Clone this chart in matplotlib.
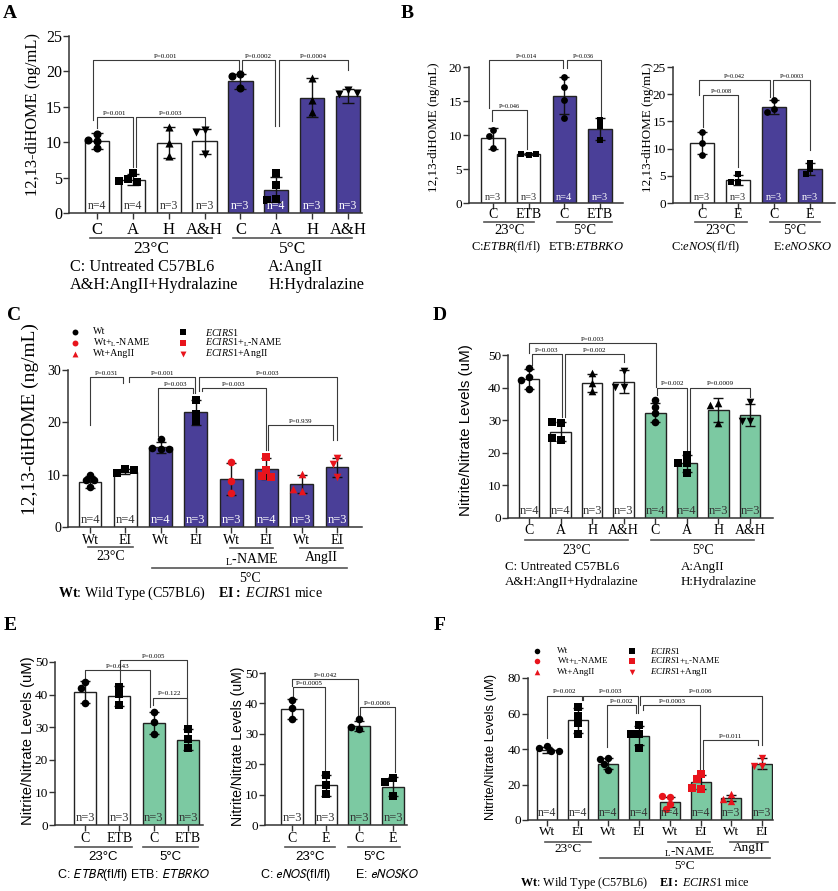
import matplotlib
matplotlib.use('Agg')
import matplotlib.pyplot as plt
import numpy as np
from matplotlib.transforms import blended_transform_factory

W, H = 838, 891
plt.rcParams['font.family'] = 'Liberation Serif'
plt.rcParams['mathtext.fontset'] = 'custom'
plt.rcParams['mathtext.rm'] = 'Liberation Serif'
plt.rcParams['mathtext.it'] = 'Liberation Serif:italic'
plt.rcParams['mathtext.bf'] = 'Liberation Serif:bold'

BLUE = '#4a3f98'
GREEN = '#7cc9a2'
RED = '#e8141c'
EDGE = '#222222'
LN = r'$_{\mathrm{L}}$-NAME'

# ---------------------------------------------------------------- data
# A : 12,13-diHOME, AngII / hydralazine
a_labels = ['C', 'A', 'H', 'A&H', 'C', 'A', 'H', 'A&H']
a_mean = [10.2, 4.7, 9.9, 10.1, 18.6, 3.3, 16.3, 16.5]
a_sd = [1.1, 0.8, 2.2, 1.8, 1.1, 1.8, 2.8, 1.0]
a_pts = [[11.2, 10.2, 10.3, 9.2], [5.6, 4.8, 4.4, 4.5], [12.1, 9.9, 8.0], [11.7, 11.4, 8.4],
         [19.7, 19.4, 17.6], [5.6, 3.9, 2.0, 1.8], [19.1, 16.0, 14.3], [17.4, 16.8, 16.9]]
a_n = [4, 4, 3, 3, 3, 4, 3, 3]
a_pvals = [(-0.11, 3.96, 21.6, 13.1, 20.2, 'P=0.001'),
           (4.03, 4.97, 21.6, 20.2, 12.3, 'P=0.0002'),
           (5.07, 6.99, 21.6, 12.3, 20.2, 'P=0.0004'),
           (0.0, 1.0, 13.6, 12.0, 6.5, 'P=0.001'),
           (1.08, 3.0, 13.6, 6.5, 12.0, 'P=0.003')]

# B left : ETBR
bl_labels = ['C', 'ETB', 'C', 'ETB']
bl_mean = [9.5, 7.2, 15.8, 10.9]
bl_sd = [1.5, 0.1, 2.7, 1.6]
bl_pts = [[10.7, 9.9, 8.1], [7.1, 7.2, 7.2], [18.5, 17.1, 15.1, 12.5], [12.2, 11.3, 9.3]]
bl_n = [3, 3, 4, 3]
bl_pvals = [(-0.11, 1.97, 21.0, 14.0, 19.8, 'P=0.014'),
            (2.07, 3.02, 21.0, 19.8, 12.7, 'P=0.036'),
            (-0.04, 0.96, 13.7, 12.0, 8.0, 'P=0.046')]

# B right : eNOS
br_labels = ['C', 'E', 'C', 'E']
br_mean = [11.0, 4.2, 17.6, 6.3]
br_sd = [2.0, 0.9, 1.3, 1.1]
br_pts = [[13.1, 11.0, 8.8], [5.3, 3.9, 3.8], [19.0, 17.2, 16.8], [7.3, 6.2, 5.3]]
br_n = [3, 3, 3, 3]
br_pvals = [(-0.07, 1.89, 22.6, 19.9, 19.5, 'P=0.042'),
            (0.04, 1.01, 19.9, 14.0, 6.7, 'P=0.008'),
            (1.98, 3.0, 22.6, 19.5, 9.7, 'P=0.0003')]

# C : 12,13-diHOME, ECIRS1
c_labels = ['Wt', 'EI', 'Wt', 'EI', 'Wt', 'EI', 'Wt', 'EI']
c_mean = [8.6, 10.6, 15.2, 21.9, 9.2, 11.1, 8.2, 11.4]
c_sd = [1.1, 0.5, 1.1, 2.4, 3.0, 2.0, 1.7, 1.8]
c_pts = [[10.0, 8.9, 8.9, 7.6], [11.1, 10.3, 10.9], [16.9, 15.0, 15.1, 14.9], [24.2, 21.6, 20.2],
         [12.4, 8.7, 6.5], [13.3, 10.9, 9.7, 9.5], [10.1, 6.9, 7.3], [13.2, 12.1, 9.5]]
c_n = [4, 4, 4, 3, 3, 4, 3, 3]
c_pvals = [(0.0, 0.94, 28.6, 19.5, 27.5, 'P=0.031'),
           (1.11, 2.98, 28.6, 27.8, 25.6, 'P=0.001'),
           (1.94, 2.91, 26.5, 17.3, 25.6, 'P=0.003'),
           (3.08, 6.99, 28.6, 25.9, 16.7, 'P=0.003'),
           (3.16, 4.98, 26.5, 25.9, 14.7, 'P=0.003'),
           (5.05, 6.89, 19.5, 14.7, 16.7, 'P=0.939')]

# D : nitrite/nitrate, AngII / hydralazine
d_labels = a_labels
d_mean = [42.7, 26.5, 41.5, 41.8, 32.3, 16.8, 33.0, 31.6]
d_sd = [3.0, 3.0, 2.7, 3.5, 3.0, 2.6, 3.7, 3.3]
d_pts = [[46.0, 43.2, 42.3, 39.7], [29.1, 29.4, 23.8, 24.5], [44.4, 41.3, 39.0], [45.0, 40.2, 40.3],
         [36.2, 34.2, 32.1, 29.3], [19.4, 17.0, 16.8, 13.8], [35.2, 34.7, 29.1], [35.5, 29.8, 29.8]]
d_n = [4, 4, 3, 3, 4, 4, 3, 3]
d_pvals = [(0.01, 4.01, 53.6, 50.5, 40.3, 'P=0.003'),
           (0.08, 1.04, 50.2, 46.9, 31.1, 'P=0.003'),
           (1.14, 3.02, 50.2, 31.1, 48.0, 'P=0.002'),
           (4.07, 5.0, 40.0, 37.8, 19.9, 'P=0.002'),
           (5.1, 7.0, 40.0, 19.9, 37.2, 'P=0.0009')]

# E left : ETBR
el_labels = ['C', 'ETB', 'C', 'ETB']
el_mean = [40.8, 39.5, 31.3, 26.2]
el_sd = [3.5, 3.0, 3.5, 3.1]
el_pts = [[43.9, 42.1, 37.4], [42.3, 40.3, 36.7], [34.7, 31.6, 27.9], [29.6, 26.3, 23.5]]
el_n = [3, 3, 3, 3]
el_pvals = [(0.0, 1.89, 47.4, 44.6, 36.2, 'P=0.643'),
            (1.02, 2.96, 50.7, 42.3, 30.6, 'P=0.005'),
            (1.97, 2.96, 39.1, 36.7, 31.1, 'P=0.122')]

# E right : eNOS
er_labels = ['C', 'E', 'C', 'E']
er_mean = [38.3, 13.1, 32.6, 12.6]
er_sd = [3.3, 3.4, 1.6, 3.2]
er_pts = [[41.2, 38.6, 35.0], [16.3, 13.3, 10.2], [34.8, 31.5, 32.1], [15.6, 14.0, 9.5]]
er_n = [3, 3, 3, 3]
er_pvals = [(0.0, 1.97, 48.1, 45.6, 35.6, 'P=0.042'),
            (0.04, 0.99, 45.4, 42.1, 17.5, 'P=0.0005'),
            (2.02, 3.06, 38.8, 35.0, 17.5, 'P=0.0006')]

# F : nitrite/nitrate, ECIRS1
f_labels = c_labels
f_mean = [39.5, 56.1, 31.8, 47.6, 10.2, 21.3, 12.2, 31.8]
f_sd = [1.9, 6.9, 2.9, 5.6, 3.0, 3.9, 1.7, 3.0]
f_pts = [[41.8, 40.5, 38.6, 38.6], [63.5, 58.8, 54.6, 48.6], [34.8, 34.5, 31.6, 28.2], [53.7, 48.6, 48.6, 40.5],
         [12.8, 13.6, 8.9, 6.2], [26.0, 23.0, 17.5, 18.3], [14.5, 10.9, 11.7], [35.2, 30.7, 30.7]]
f_n = [4, 4, 4, 4, 4, 4, 3, 3]
f_pvals = [(0.0, 1.13, 70.1, 46.1, 67.8, 'P=0.002'),
           (1.18, 2.95, 70.1, 67.8, 60.3, 'P=0.003'),
           (1.94, 2.9, 65.0, 41.4, 60.3, 'P=0.002'),
           (3.03, 6.99, 70.1, 65.0, 42.4, 'P=0.006'),
           (3.14, 4.99, 65.0, 62.1, 27.3, 'P=0.0003'),
           (5.09, 6.88, 45.2, 28.2, 42.4, 'P=0.011')]

# ---------------------------------------------------------------- figure
fig = plt.figure(figsize=(W / 100, H / 100), dpi=100)
ov = fig.add_axes([0, 0, 1, 1])
ov.set_xlim(0, W)
ov.set_ylim(H, 0)
ov.axis('off')
ov.patch.set_visible(False)
rend = fig.canvas.get_renderer()


def swarm(vals, xu, yu, d):
    placed, offs = [], []
    for v in vals:
        y = v * yu
        for k in [0, -1, 1, -2, 2, -3, 3]:
            x = k * 0.55 * d
            if all((x - a) ** 2 + (y - b) ** 2 >= (0.85 * d) ** 2 for a, b in placed):
                break
        placed.append((x, y))
        offs.append(x / xu)
    return np.array(offs)


def panel(box, centres, ymax, ystep, labels, means, sds, pts, barcols, marks, mcols, ns,
          pvals, bw=0.65, ms=32, tfs=10, xfs=10, xly=0, nfs=8, cap=3.5, pfs=5):
    x0, ytop, x1, ybot = box
    c0, c1 = centres
    nb = len(means)
    sp = (c1 - c0) / (nb - 1)
    ax = fig.add_axes([x0 / W, 1 - ybot / H, (x1 - x0) / W, (ybot - ytop) / H])
    ax.patch.set_visible(False)
    ax.set_xlim((x0 - c0) / sp, nb - 1 + (x1 - c1) / sp)
    ax.set_ylim(0, ymax)
    for s in ['top', 'right']:
        ax.spines[s].set_visible(False)
    for s in ['left', 'bottom']:
        ax.spines[s].set_color('#333333')
        ax.spines[s].set_linewidth(1.1)
    x = np.arange(nb)
    ax.set_yticks(np.arange(0, ymax + 0.1, ystep))
    ax.set_xticks(x)
    ax.set_xticklabels([])
    ax.tick_params(axis='both', length=4, width=1.0, color='#333333', pad=1, labelsize=tfs)
    ax.bar(x, means, bw, color=barcols, edgecolor=EDGE, linewidth=1.0, zorder=2)
    ax.errorbar(x, means, yerr=sds, fmt='none', ecolor='#111111', elinewidth=1.0,
                capsize=cap, capthick=1.0, zorder=3)
    d = np.sqrt(ms) * 100 / 72
    yu = (ybot - ytop) / ymax
    for i, p in enumerate(pts):
        offs = swarm(p, sp, yu, d)
        ax.scatter(i + offs, p, marker=marks[i], s=ms, color=mcols[i], linewidths=0, zorder=4)
    tr = blended_transform_factory(ax.transData, ov.transData)
    for i in range(nb):
        ncol = 'white' if barcols[i] == BLUE else '#333333'
        ax.text(i, ymax * 0.004, 'n=%d' % ns[i], ha='center', va='bottom', fontsize=nfs, color=ncol, zorder=5)
        ax.text(i, xly, labels[i], transform=tr, ha='center', va='center', fontsize=xfs)
    for xa, xb, y, ya, yb, t in pvals:
        ax.plot([xa, xa, xb, xb], [ya, y, y, yb], color='#3a3a3a', lw=0.8, clip_on=False, zorder=1)
        ax.annotate(t, ((xa + xb) / 2, y), xytext=(0, 0.8), textcoords='offset points',
                    ha='center', va='bottom', fontsize=pfs, annotation_clip=False)
    return ax, tr


def group(ax, tr, xa, xb, ypx, label, lypx, fs, **kw):
    ax.plot([xa, xb], [ypx, ypx], transform=tr, color='#555555', lw=1.2, clip_on=False)
    ax.text((xa + xb) / 2, lypx, label, transform=tr, ha='center', va='center', fontsize=fs, **kw)


def vlabel(x, y, s, length, family='Liberation Serif'):
    t = ov.text(x, y, s, rotation=90, ha='center', va='center', fontsize=10, family=family)
    bb = t.get_window_extent(renderer=rend)
    t.set_fontsize(10 * length / bb.height)


def fit_size(s, width, **kw):
    t = ov.text(0, 0, s, fontsize=10, **kw)
    bb = t.get_window_extent(renderer=rend)
    t.remove()
    return 10 * width / bb.width


def htext(x, y, s, fs=10, **kw):
    return ov.text(x, y, s, ha='left', va='center', fontsize=fs, **kw)


blk = ['black'] * 8
red_c = ['black'] * 4 + [RED] * 4
mk_a = ['o', 's', '^', 'v'] * 2
mk_c = ['o', 's', 'o', 's', 'o', 's', '^', 'v']
mk_b = ['o', 's', 'o', 's']

# ---- A
ax, tr = panel((69, 36, 362, 213), (97, 348), 25, 5, a_labels, a_mean, a_sd, a_pts,
               ['white'] * 4 + [BLUE] * 4, mk_a, blk, a_n, a_pvals,
               bw=0.68, ms=34, tfs=11.5, xfs=12, xly=230, nfs=8.5, cap=4)
group(ax, tr, -0.2, 3.2, 238, '23°C', 249, 12.5)
group(ax, tr, 3.8, 7.1, 238, '5°C', 249, 12.5)
vlabel(33, 115, '12,13-diHOME (ng/mL)', 164)
fs = fit_size('A&H:AngII+Hydralazine', 168)
htext(70, 267, 'C: Untreated C57BL6', fs)
htext(268, 267, 'A:AngII', fs)
htext(70, 285, 'A&H:AngII+Hydralazine', fs)
htext(268, 285, 'H:Hydralazine', fs)

# ---- B left
ax, tr = panel((469, 67, 623, 203), (493, 600), 20, 5, bl_labels, bl_mean, bl_sd, bl_pts,
               ['white'] * 2 + [BLUE] * 2, mk_b, blk, bl_n, bl_pvals,
               ms=24, tfs=9.5, xfs=10, xly=215, nfs=7.5, cap=3.5, pfs=4.5)
group(ax, tr, -0.25, 1.16, 222, '23°C', 231, 10.5)
group(ax, tr, 1.79, 3.33, 222, '5°C', 231, 10.5)
vlabel(434, 127, '12,13-diHOME (ng/mL)', 130)
htext(471, 247, r'C:$\mathit{ETBR}$(fl/fl)', 9)
htext(548, 247, r'ETB:$\mathit{ETBRKO}$', 9)

# ---- B right
ax, tr = panel((673, 67, 835, 203), (702, 810), 25, 5, br_labels, br_mean, br_sd, br_pts,
               ['white'] * 2 + [BLUE] * 2, mk_b, blk, br_n, br_pvals,
               ms=24, tfs=9.5, xfs=10, xly=215, nfs=7.5, cap=3.5, pfs=4.5)
group(ax, tr, -0.19, 1.24, 222, '23°C', 231, 10.5)
group(ax, tr, 1.89, 3.28, 222, '5°C', 231, 10.5)
vlabel(648, 127, '12,13-diHOME (ng/mL)', 130)
htext(671, 247, r'C:$\mathit{eNOS}$(fl/fl)', 9)
htext(773, 247, r'E:$\mathit{eNOSKO}$', 9)

# ---- C
ax, tr = panel((68, 370, 362, 527), (90, 337), 30, 10, c_labels, c_mean, c_sd, c_pts,
               ['white'] * 2 + [BLUE] * 6, mk_c, red_c, c_n, c_pvals,
               ms=30, tfs=10, xfs=10, xly=540, nfs=9, cap=3.5)
group(ax, tr, -0.06, 1.22, 547, '23°C', 557, 10)
group(ax, tr, 3.97, 5.19, 548, LN, 560, 10)
group(ax, tr, 5.95, 7.17, 548, 'AngII', 557, 10)
group(ax, tr, 1.76, 7.28, 568, '5°C', 578, 10)
vlabel(30, 419, '12,13-diHOME (ng/mL)', 192)
leg_rows = [332, 343, 354]
for k, (m, c, t) in enumerate([('o', 'black', 'Wt'), ('o', RED, 'Wt+' + LN), ('^', RED, 'Wt+AngII')]):
    ov.scatter(75, leg_rows[k], marker=m, s=18, color=c, linewidths=0)
    htext(93, leg_rows[k], t, 7.2)
for k, (m, c, t) in enumerate([('s', 'black', r'$\mathit{ECIRS1}$'), ('s', RED, r'$\mathit{ECIRS1}$+' + LN),
                               ('v', RED, r'$\mathit{ECIRS1}$+AngII')]):
    ov.scatter(183, leg_rows[k], marker=m, s=18, color=c, linewidths=0)
    htext(205, leg_rows[k], t, 7.2)
wt_txt = r'$\mathbf{Wt}$: Wild Type (C57BL6)    $\mathbf{EI:}$ $\mathit{ECIRS1}$ mice'
htext(58, 593, wt_txt, fit_size(wt_txt, 265))

# ---- D
ax, tr = panel((508, 355, 773, 518), (529, 750), 50, 10, d_labels, d_mean, d_sd, d_pts,
               ['white'] * 4 + [GREEN] * 4, mk_a, blk, d_n, d_pvals,
               bw=0.65, ms=30, tfs=9.5, xfs=10, xly=530, nfs=9, cap=3.5)
group(ax, tr, -0.13, 3.14, 540, '23°C', 551, 10)
group(ax, tr, 3.86, 7.13, 540, '5°C', 551, 10)
vlabel(466, 430, 'Nitrite/Nitrate Levels (uM)', 172, 'Liberation Sans')
fs = fit_size('A&H:AngII+Hydralazine', 135)
htext(505, 567, 'C: Untreated C57BL6', fs)
htext(681, 567, 'A:AngII', fs)
htext(505, 582, 'A&H:AngII+Hydralazine', fs)
htext(681, 582, 'H:Hydralazine', fs)

# ---- E left
ax, tr = panel((55, 662, 203, 825), (85, 188), 50, 10, el_labels, el_mean, el_sd, el_pts,
               ['white'] * 2 + [GREEN] * 2, mk_b, blk, el_n, el_pvals,
               ms=30, tfs=9.5, xfs=10, xly=838, nfs=9, cap=3.5)
group(ax, tr, -0.29, 1.37, 847, '23°C', 857, 9.5, family='Liberation Sans')
group(ax, tr, 1.69, 3.29, 847, '5°C', 857, 9.5, family='Liberation Sans')
vlabel(28, 741, 'Nitrite/Nitrate Levels (uM)', 168, 'Liberation Sans')
htext(57, 875, r'C: $\mathit{ETBR}$(fl/fl)', 9, family='Liberation Sans', math_fontfamily='stixsans')
htext(130, 875, r'ETB: $\mathit{ETBRKO}$', 9, family='Liberation Sans', math_fontfamily='stixsans')

# ---- E right
ax, tr = panel((265, 673, 407, 825), (292, 393), 50, 10, er_labels, er_mean, er_sd, er_pts,
               ['white'] * 2 + [GREEN] * 2, mk_b, blk, er_n, er_pvals,
               ms=30, tfs=9.5, xfs=10, xly=838, nfs=9, cap=3.5)
group(ax, tr, -0.21, 1.28, 847, '23°C', 857, 9.5, family='Liberation Sans')
group(ax, tr, 1.66, 3.21, 847, '5°C', 857, 9.5, family='Liberation Sans')
vlabel(238, 746, 'Nitrite/Nitrate Levels (uM)', 160, 'Liberation Sans')
htext(260, 875, r'C: $\mathit{eNOS}$(fl/fl)', 9, family='Liberation Sans', math_fontfamily='stixsans')
htext(355, 875, r'E: $\mathit{eNOSKO}$', 9, family='Liberation Sans', math_fontfamily='stixsans')

# ---- F
ax, tr = panel((528, 678, 773, 820), (547, 762), 80, 20, f_labels, f_mean, f_sd, f_pts,
               ['white'] * 2 + [GREEN] * 6, mk_c, red_c, f_n, f_pvals,
               ms=28, tfs=9.5, xfs=9.5, xly=832, nfs=8.5, cap=3.5)
group(ax, tr, -0.07, 1.43, 842, '23°C', 849, 9.5)
group(ax, tr, 3.94, 5.31, 842, LN, 852, 9.5)
group(ax, tr, 5.96, 7.2, 842, 'AngII', 848, 9.5)
group(ax, tr, 1.73, 7.26, 858, '5°C', 866, 9.5)
vlabel(491, 747, 'Nitrite/Nitrate Levels (uM)', 147, 'Liberation Sans')
leg_rows = [651, 661, 672]
for k, (m, c, t) in enumerate([('o', 'black', 'Wt'), ('o', RED, 'Wt+' + LN), ('^', RED, 'Wt+AngII')]):
    ov.scatter(537, leg_rows[k], marker=m, s=16, color=c, linewidths=0)
    htext(557, leg_rows[k], t, 6.6)
for k, (m, c, t) in enumerate([('s', 'black', r'$\mathit{ECIRS1}$'), ('s', RED, r'$\mathit{ECIRS1}$+' + LN),
                               ('v', RED, r'$\mathit{ECIRS1}$+AngII')]):
    ov.scatter(632, leg_rows[k], marker=m, s=16, color=c, linewidths=0)
    htext(650, leg_rows[k], t, 6.6)
htext(520, 883, wt_txt, fit_size(wt_txt, 230))

# ---- panel letters
for lx, ly, lt in [(10, 13, 'A'), (407, 13, 'B'), (14, 315, 'C'), (440, 315, 'D'), (10, 625, 'E'), (440, 625, 'F')]:
    ov.text(lx, ly, lt, ha='center', va='center', fontsize=14, fontweight='bold')

fig.savefig('out.png', dpi=100)
